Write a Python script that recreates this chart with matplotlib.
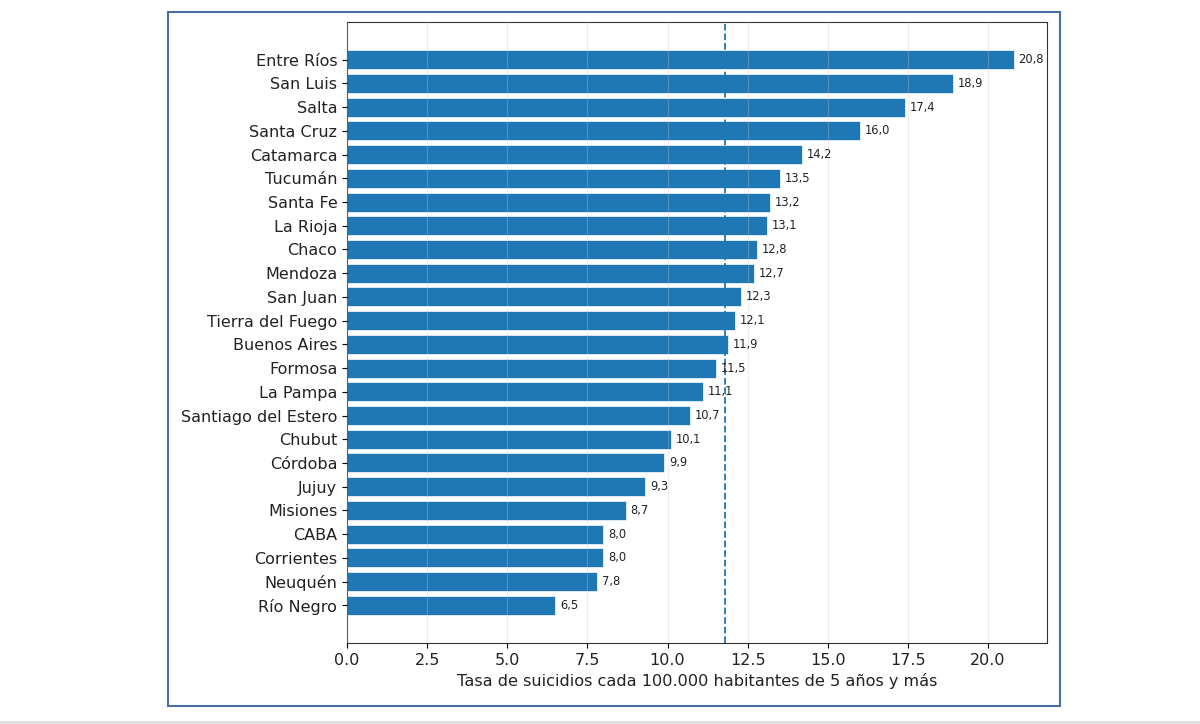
import numpy as np
import matplotlib.pyplot as plt
from matplotlib.patches import Rectangle
from matplotlib.lines import Line2D

provincias = ['Entre Ríos', 'San Luis', 'Salta', 'Santa Cruz', 'Catamarca', 'Tucumán',
              'Santa Fe', 'La Rioja', 'Chaco', 'Mendoza', 'San Juan', 'Tierra del Fuego',
              'Buenos Aires', 'Formosa', 'La Pampa', 'Santiago del Estero', 'Chubut',
              'Córdoba', 'Jujuy', 'Misiones', 'CABA', 'Corrientes', 'Neuquén', 'Río Negro']
tasas = [20.8, 18.9, 17.4, 16.0, 14.2, 13.5, 13.2, 13.1, 12.8, 12.7, 12.3, 12.1,
         11.9, 11.5, 11.1, 10.7, 10.1, 9.9, 9.3, 8.7, 8.0, 8.0, 7.8, 6.5]
tasa_pais = 11.8

fig = plt.figure(figsize=(12, 7.24), dpi=100)
ax = fig.add_axes([0.2892, 0.1119, 0.5833, 0.8577])

y = np.arange(len(provincias))
ax.barh(y, tasas, height=0.8, color='#1f77b4', edgecolor='#e8f0f8', linewidth=0.6)
ax.set_yticks(y)
ax.set_yticklabels(provincias, fontsize=11.5, color='#222222')
ax.invert_yaxis()
ax.axvline(tasa_pais, linestyle='--', color='#1f77b4', linewidth=1.3)

for yi, v in zip(y, tasas):
    ax.text(v + 0.15, yi, f'{v:.1f}'.replace('.', ','), va='center', ha='left',
            fontsize=8.3, color='#222222')

ax.set_xticks(np.arange(0, 21, 2.5))
ax.tick_params(axis='x', labelsize=11.5, labelcolor='#222222')
ax.grid(axis='x', color='#cccccc', alpha=0.3, linewidth=0.8)
ax.set_axisbelow(False)
ax.set_xlabel('Tasa de suicidios cada 100.000 habitantes de 5 años y más',
              fontsize=11.6, color='#222222')
for s in ax.spines.values():
    s.set_color('#333333')

# marco azul alrededor de la imagen
fig.patches.append(Rectangle((0.14, 0.0249), 0.7433, 0.9586, transform=fig.transFigure,
                             fill=False, edgecolor='#4a6fa5', linewidth=1.5))
fig.lines.append(Line2D([0, 1], [0.003, 0.003], transform=fig.transFigure,
                        color='#e0e0e0', linewidth=2))

fig.savefig('out.png', dpi=100)
